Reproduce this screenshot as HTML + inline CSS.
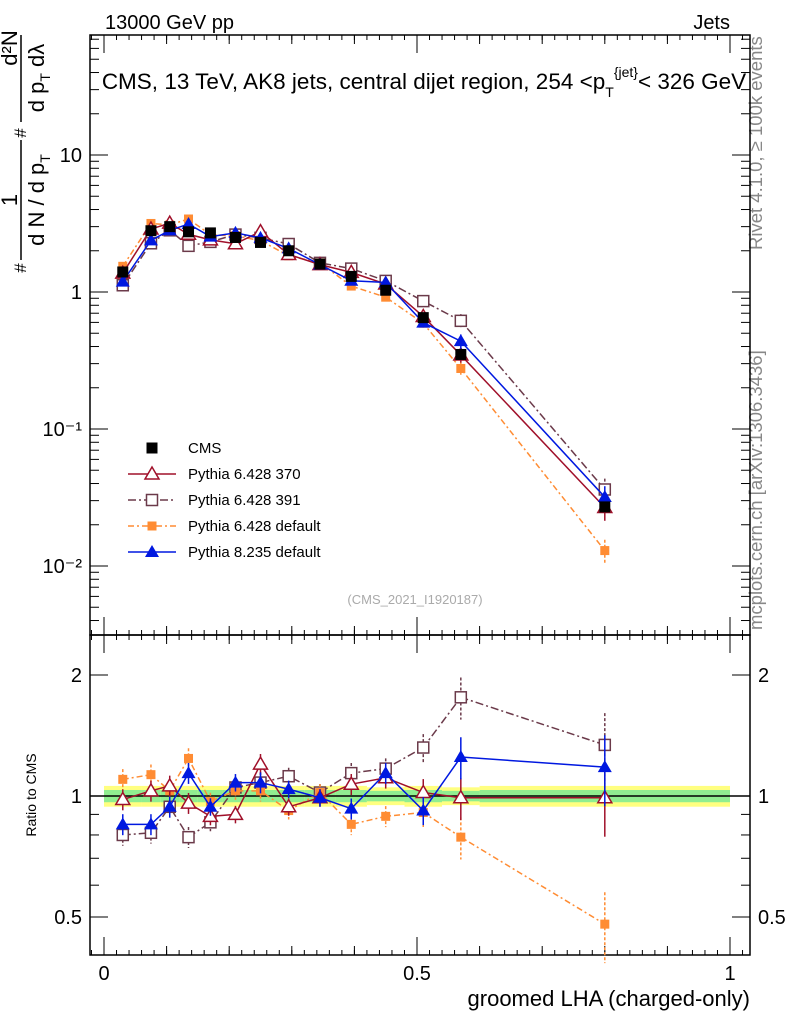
<!DOCTYPE html>
<html><head><meta charset="utf-8"><style>
body{margin:0;background:#fff;font-family:"Liberation Sans",sans-serif}
svg text{font-family:"Liberation Sans",sans-serif}
</style></head><body>
<svg id="c" width="786" height="1024" xmlns="http://www.w3.org/2000/svg">
<text x="105" y="29" font-size="20">13000 GeV pp</text>
<text x="730" y="29" font-size="20" text-anchor="end">Jets</text>
<text x="424" y="89" font-size="22.5" text-anchor="middle">CMS, 13 TeV, AK8 jets, central dijet region, 254 &lt;p<tspan font-size="14" dy="8">T</tspan><tspan font-size="14" dy="-20">{jet}</tspan><tspan dy="12">&lt; 326 GeV</tspan></text>
<text transform="translate(762,250) rotate(-90)" font-size="18.5" fill="#888">Rivet 4.1.0, ≥ 100k events</text>
<text transform="translate(762,630) rotate(-90)" font-size="18.5" fill="#888">mcplots.cern.ch [arXiv:1306.3436]</text>
<g font-size="22">
<text transform="translate(26,268) rotate(-90)" text-anchor="middle" font-size="17">#</text>
<text transform="translate(17,200) rotate(-90)" text-anchor="middle">1</text>
<line x1="21" x2="21" y1="140" y2="260" stroke="#000" stroke-width="1.5"/>
<text transform="translate(44,200) rotate(-90)" text-anchor="middle">d N / d p<tspan font-size="14" dy="6">T</tspan></text>
<text transform="translate(26,133) rotate(-90)" text-anchor="middle" font-size="17">#</text>
<text transform="translate(17,48) rotate(-90)" text-anchor="middle">d²N</text>
<line x1="21" x2="21" y1="35" y2="122" stroke="#000" stroke-width="1.5"/>
<text transform="translate(44,78) rotate(-90)" text-anchor="middle">d p<tspan font-size="14" dy="6">T</tspan><tspan dy="-6"> d</tspan>λ</text>
</g>
<text x="415" y="604" font-size="13" fill="#aaa" text-anchor="middle">(CMS_2021_I1920187)</text>
<text transform="translate(36,795) rotate(-90)" font-size="14" text-anchor="middle">Ratio to CMS</text>
<text x="750" y="1006" font-size="22" text-anchor="end">groomed LHA (charged-only)</text>
<g id="g"></g>
</svg>
<script>
const xs=[0.03,0.075,0.105,0.135,0.17,0.21,0.25,0.295,0.345,0.395,0.45,0.51,0.57,0.8];
const xLo=[0,0.06,0.09,0.12,0.15,0.19,0.23,0.27,0.32,0.37,0.42,0.48,0.54,0.6];
const xHi=[0.06,0.09,0.12,0.15,0.19,0.23,0.27,0.32,0.37,0.42,0.48,0.54,0.6,1.0];
const cms=[1.4,2.8,3.0,2.75,2.7,2.5,2.3,2.0,1.6,1.3,1.03,0.65,0.35,0.027];
const cmsErr=[0.035,0.035,0.035,0.035,0.035,0.035,0.035,0.035,0.035,0.035,0.03,0.035,0.03,0.035];
const r370=[0.98,1.03,1.06,0.96,0.89,0.9,1.2,0.94,0.99,1.07,1.11,1.02,0.99,0.99];
const r391=[0.8,0.81,0.94,0.79,0.86,1.05,1.08,1.12,1.02,1.14,1.17,1.32,1.76,1.34];
const rP6=[1.1,1.13,1.03,1.24,0.97,1.03,1.03,0.92,1.02,0.85,0.89,0.91,0.79,0.48];
const rP8=[0.85,0.85,0.94,1.14,0.94,1.08,1.08,1.04,0.99,0.93,1.14,0.92,1.25,1.18];
const mcErr=[0.06,0.06,0.06,0.06,0.05,0.05,0.06,0.05,0.05,0.06,0.06,0.08,0.12,0.2];
const yTicksMain=[10,1,0.1,0.01];
const yTickLabelsMain=["10","1","10⁻¹","10⁻²"];
const yTicksRatio=[2,1,0.5];
const xTicks=[0,0.5,1];
const NS="http://www.w3.org/2000/svg";
const g=document.getElementById('g');
const X=v=>104+v*626;
const YM=v=>292-137*Math.log10(v);
const YR=v=>796-402*Math.log10(v);
function el(t,a,p){const e=document.createElementNS(NS,t);for(const k in a)e.setAttribute(k,a[k]);(p||g).appendChild(e);return e;}
const f1=el('rect',{x:90,y:35,width:660,height:600,fill:'none',stroke:'#000','stroke-width':1.5});


const f2=el('rect',{x:90,y:635,width:660,height:320,fill:'none',stroke:'#000','stroke-width':1.5});


for(let i=0;i<xs.length;i++){
 const b1=el('rect',{x:X(xLo[i]),y:YR(1+cmsErr[i]*1.7),width:X(xHi[i])-X(xLo[i]),height:YR(1-cmsErr[i]*1.7)-YR(1+cmsErr[i]*1.7),fill:'#ffff80'});
 
 
 const b2=el('rect',{x:X(xLo[i]),y:YR(1+cmsErr[i]),width:X(xHi[i])-X(xLo[i]),height:YR(1-cmsErr[i])-YR(1+cmsErr[i]),fill:'#90ee90'});
 
 
}
const one=el('line',{x1:90,x2:750,y1:YR(1),y2:YR(1),stroke:'#000','stroke-width':1.5});


for(let d=-3;d<=1;d++)for(let m=1;m<10;m++){const v=m*Math.pow(10,d);const y=YM(v);if(y<35||y>635)continue;const L=m==1?18:9;
 el('line',{x1:90,x2:90+L,y1:y,y2:y,stroke:'#000'});el('line',{x1:750,x2:750-L,y1:y,y2:y,stroke:'#000'});}
yTicksMain.forEach((v,i)=>{const t=el('text',{x:82,y:YM(v)+7,'font-size':20,'text-anchor':'end'});t.textContent=yTickLabelsMain[i];
 
 });
[0.5,0.6,0.7,0.8,0.9,1,2].forEach(v=>{const y=YR(v);const L=(v==1||v==2||v==0.5)?18:9;
 el('line',{x1:90,x2:90+L,y1:y,y2:y,stroke:'#000'});el('line',{x1:750,x2:750-L,y1:y,y2:y,stroke:'#000'});});
yTicksRatio.forEach(v=>{for(const [xx,a] of [[82,'end'],[758,'start']]){const t=el('text',{x:xx,y:YR(v)+7,'font-size':20,'text-anchor':a});t.textContent=String(v);
 
 }});
for(let k=-1;k<=10;k++){const v=k/10;const x=X(v);if(x<90||x>750)continue;const L=(k%5==0)?18:9;
 for(const [yb,s] of [[35,1],[635,-1],[635,1],[955,-1]])el('line',{x1:x,x2:x,y1:yb,y2:yb+s*L,stroke:'#000'});}
for(let k=-1;k<=52;k++){const x=X(k/50);if(x<90||x>750)continue;for(const [yb,s] of [[35,1],[635,-1],[635,1],[955,-1]])el('line',{x1:x,x2:x,y1:yb,y2:yb+s*5,stroke:'#000'});}
xTicks.forEach(v=>{const t=el('text',{x:X(v),y:980,'font-size':20,'text-anchor':'middle'});t.textContent=String(v);
 
 });
function marker(type,x,y,c,name){let e;
 if(type=='sq')e=el('rect',{x:x-5.5,y:y-5.5,width:11,height:11,fill:c});
 if(type=='osq')e=el('rect',{x:x-5.5,y:y-5.5,width:11,height:11,fill:'#fff',stroke:c,'stroke-width':1.5});
 if(type=='ssq')e=el('rect',{x:x-4.5,y:y-4.5,width:9,height:9,fill:c});
 if(type=='tri')e=el('polygon',{points:`${x},${y-7} ${x-7},${y+5} ${x+7},${y+5}`,fill:'#fff',stroke:c,'stroke-width':1.5});
 if(type=='ftri')e=el('polygon',{points:`${x},${y-7} ${x-7},${y+5} ${x+7},${y+5}`,fill:c});
 
 }
const series=[
 {r:r391,c:'#6b3a4a',m:'osq',d:'8,3,2,3',n:'pythia-6428-391'},
 {r:rP6,c:'#ff8c33',m:'ssq',d:'6,3,2,3',n:'pythia-6428-default'},
 {r:r370,c:'#a0102a',m:'tri',d:'',n:'pythia-6428-370'},
 {r:rP8,c:'#0018e0',m:'ftri',d:'',n:'pythia-8235-default'}];
series.forEach(s=>{
 const main=xs.map((x,i)=>cms[i]*s.r[i]);
 for(const [Y,vals,pn] of [[YM,main,'main'],[YR,s.r,'ratio']]){
  const p=el('polyline',{points:xs.map((x,i)=>X(x)+','+Y(vals[i])).join(' '),fill:'none',stroke:s.c,'stroke-width':1.5,'stroke-dasharray':s.d});
  
  
  xs.forEach((x,i)=>{const e=el('line',{x1:X(x),x2:X(x),y1:Y(vals[i]*(1+mcErr[i])),y2:Y(vals[i]*(1-mcErr[i])),stroke:s.c,'stroke-width':1.5,'stroke-dasharray':s.d?'3,2':''});
   
   
   marker(s.m,X(x),Y(vals[i]),s.c,s.n+'-'+pn+'-point');});
 }
});
xs.forEach((x,i)=>marker('sq',X(x),YM(cms[i]),'#000','cms-point'));
const leg=[['sq','#000','','CMS','legend-cms'],['tri','#a0102a','','Pythia 6.428 370','legend-pythia-6428-370'],['osq','#6b3a4a','8,3,2,3','Pythia 6.428 391','legend-pythia-6428-391'],['ssq','#ff8c33','6,3,2,3','Pythia 6.428 default','legend-pythia-6428-default'],['ftri','#0018e0','','Pythia 8.235 default','legend-pythia-8235-default']];
leg.forEach((l,i)=>{const y=448+i*26;
 if(i>0){const ln=el('line',{x1:128,x2:176,y1:y,y2:y,stroke:l[1],'stroke-width':1.5,'stroke-dasharray':l[2]});
  
  }
 marker(l[0],152,y,l[1],l[4]+'-marker');
 const t=el('text',{x:188,y:y+5,'font-size':15});t.textContent=l[3];
 
 });
</script>
</body></html>
